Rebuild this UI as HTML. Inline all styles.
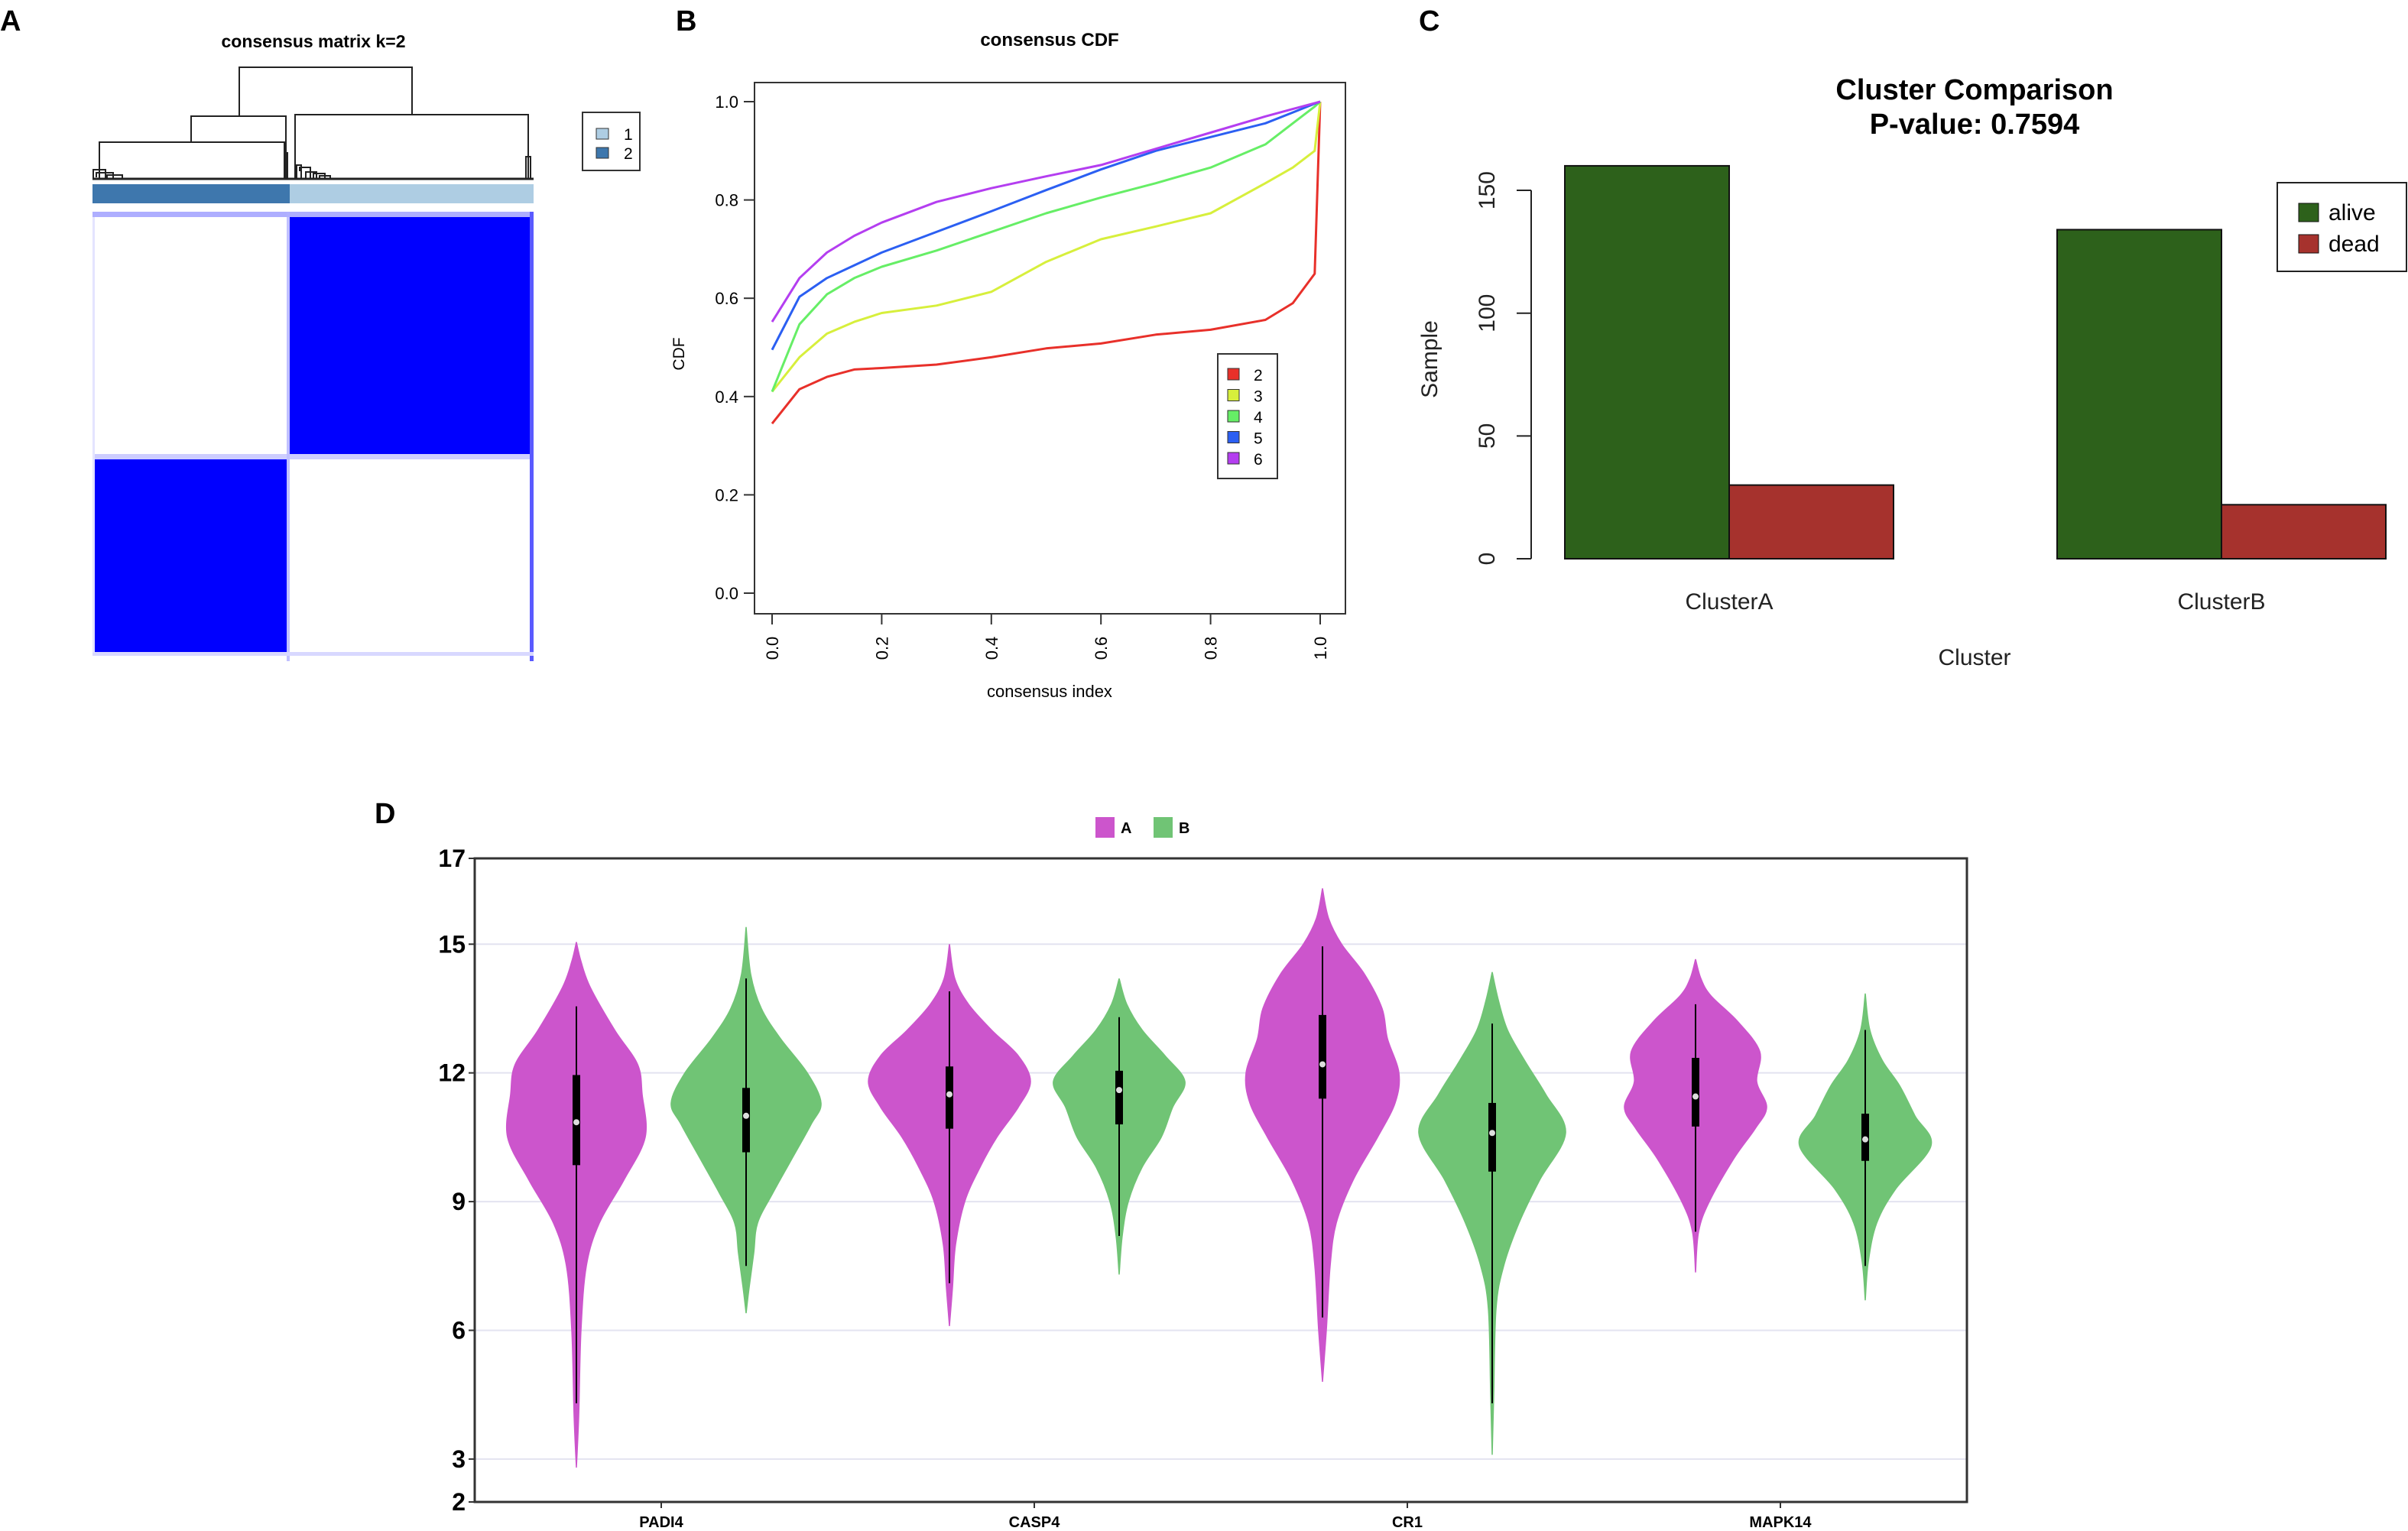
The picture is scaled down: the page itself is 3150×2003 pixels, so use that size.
<!DOCTYPE html>
<html><head><meta charset="utf-8"><style>
html,body{margin:0;padding:0;background:#fff;}
svg{display:block;font-family:"Liberation Sans",sans-serif;}
</style></head><body>
<svg id="fig" width="3150" height="2003" viewBox="0 0 3150 2003" xmlns="http://www.w3.org/2000/svg">
<rect width="3150" height="2003" fill="#fff"/>
<!-- Panel A -->
<g>
<text x="0" y="40" font-size="38" font-weight="bold">A</text>
<text x="410" y="62" font-size="23" font-weight="bold" text-anchor="middle">consensus matrix k=2</text>
<g stroke="#222" stroke-width="2" fill="none">
<path d="M313,152 V88 H539 V150"/>
<path d="M250,186 V152 H374 V234"/>
<path d="M130,234 V186 H372 V234"/>
<path d="M386,234 V150 H691 V234"/>
<path d="M122,234 V222 H138 V234 M126,232 V226 H148 V234 M140,234 V229 H160 V234"/>
<path d="M388,234 V216 H394 V234 M392,224 V219 H406 V234 M400,234 V225 H414 V234 M410,234 V227 H425 V234 M418,234 V230 H432 V234"/>
<path d="M688,234 V205 H694 V234 M372,234 V200 H376 V234"/>
<path d="M121,234 H698" stroke-width="3"/>
</g>
<rect x="121" y="241" width="258" height="25" fill="#3e77ad"/>
<rect x="379" y="241" width="319" height="25" fill="#aecde3"/>
<g>
<rect x="121" y="277" width="577" height="588" fill="#fff"/>
<rect x="379" y="284" width="314" height="310" fill="#0000ff"/>
<rect x="121" y="601" width="254" height="252" fill="#0000ff"/>
<rect x="121" y="277" width="577" height="7" fill="#9a9aff" opacity="0.8"/>
<rect x="375" y="277" width="4" height="588" fill="#b0b0ff" opacity="0.8"/>
<rect x="121" y="594" width="577" height="7" fill="#c0c0ff" opacity="0.8"/>
<rect x="693" y="277" width="5" height="588" fill="#5a5aff"/>
<rect x="121" y="853" width="577" height="5" fill="#d8d8ff"/>
<rect x="121" y="284" width="3" height="570" fill="#e4e4ff"/>
</g>
<rect x="762" y="147" width="75" height="76" fill="#fff" stroke="#333" stroke-width="2"/>
<rect x="780" y="168" width="16" height="14" fill="#aecde3" stroke="#333"/>
<rect x="780" y="193" width="16" height="14" fill="#3e77ad" stroke="#333"/>
<text x="816" y="183" font-size="21">1</text>
<text x="816" y="208" font-size="21">2</text>
</g>
<!-- Panel B -->
<g id="panelB">
<text x="884" y="40" font-size="38" font-weight="bold">B</text>
<text x="1373" y="60" font-size="24" font-weight="bold" text-anchor="middle">consensus CDF</text>
<rect x="987" y="108" width="773" height="695" fill="none" stroke="#333" stroke-width="2"/>
<text x="0" y="0" font-size="21" text-anchor="middle" transform="translate(895,463) rotate(-90)">CDF</text>
<text x="1373" y="912" font-size="22" text-anchor="middle">consensus index</text>
</g>
<!-- Panel C -->
<g id="panelC">
<text x="1856" y="40" font-size="38" font-weight="bold">C</text>
<text x="2583" y="130" font-size="38" font-weight="bold" text-anchor="middle">Cluster Comparison</text>
<text x="2583" y="175" font-size="38" font-weight="bold" text-anchor="middle">P-value: 0.7594</text>
<text x="2583" y="870" font-size="30" text-anchor="middle" fill="#222">Cluster</text>
<text x="0" y="0" font-size="30" text-anchor="middle" fill="#222" transform="translate(1880,470) rotate(-90)">Sample</text>
<rect x="2979" y="239" width="169" height="116" fill="#fff" stroke="#222" stroke-width="2"/>
<rect x="3007" y="266" width="26" height="24" fill="#2d611b" stroke="#111"/>
<rect x="3007" y="307" width="26" height="24" fill="#a6322d" stroke="#111"/>
<text x="3046" y="288" font-size="30">alive</text>
<text x="3046" y="329" font-size="30">dead</text>
</g>
<!-- Panel D -->
<g id="panelD">
<text x="490" y="1077" font-size="38" font-weight="bold">D</text>
<rect x="1433" y="1069" width="25" height="27" fill="#cc55cc"/>
<text x="1466" y="1090" font-size="20" font-weight="bold">A</text>
<rect x="1509" y="1069" width="25" height="27" fill="#70c475"/>
<text x="1542" y="1090" font-size="20" font-weight="bold">B</text>
</g>
</svg>
<script>
// ---------- Panel B data ----------
const cdfX = [0,0.05,0.1,0.15,0.2,0.3,0.4,0.5,0.6,0.7,0.8,0.9,0.95,0.99,1.0];
const cdfK2 = [0.345,0.415,0.44,0.455,0.458,0.465,0.48,0.498,0.508,0.526,0.536,0.556,0.59,0.65,1.0];
const cdfK3 = [0.41,0.48,0.528,0.552,0.57,0.585,0.613,0.674,0.72,0.746,0.773,0.834,0.866,0.9,1.0];
const cdfK4 = [0.41,0.547,0.608,0.641,0.664,0.697,0.735,0.773,0.805,0.834,0.866,0.913,0.956,0.99,1.0];
const cdfK5 = [0.495,0.603,0.641,0.667,0.693,0.735,0.777,0.82,0.862,0.9,0.928,0.956,0.978,0.996,1.0];
const cdfK6 = [0.552,0.641,0.693,0.727,0.754,0.796,0.824,0.848,0.871,0.904,0.937,0.97,0.985,0.997,1.0];
const cdfLabels = ["2","3","4","5","6"];
const cdfTicks = ["0.0","0.2","0.4","0.6","0.8","1.0"];
// ---------- Panel C data ----------
const barClusters = ["ClusterA","ClusterB"];
const barAlive = [160,134];
const barDead = [30,22];
const barTicks = [0,50,100,150];
// ---------- Panel D data ----------
const genes = ["PADI4","CASP4","CR1","MAPK14"];
const violinTicks = [2,3,6,9,12,15,17];
const densA = [
 [[2.8,0],[4,0.03],[6,0.06],[7.5,0.13],[8.5,0.3],[9.5,0.62],[10.5,0.9],[11.5,0.86],[12.2,0.8],[13,0.5],[14,0.18],[14.6,0.06],[15.05,0]],
 [[6.1,0],[7,0.04],[8,0.08],[9,0.2],[9.8,0.4],[10.5,0.62],[11.2,0.9],[11.8,1.06],[12.4,0.9],[13,0.55],[13.6,0.25],[14.2,0.07],[15.0,0]],
 [[4.8,0],[6,0.05],[7.5,0.1],[8.5,0.18],[9.5,0.4],[10.5,0.72],[11.3,0.95],[12,1.0],[12.8,0.85],[13.5,0.78],[14.3,0.55],[15,0.25],[15.6,0.08],[16.3,0]],
 [[7.35,0],[8.3,0.04],[9,0.18],[10,0.5],[10.7,0.78],[11.2,0.93],[11.8,0.8],[12.5,0.84],[13.2,0.55],[13.8,0.2],[14.2,0.07],[14.65,0]]
];
const densB = [
 [[6.4,0],[7,0.04],[7.8,0.1],[8.5,0.15],[9.2,0.35],[10,0.6],[10.8,0.85],[11.3,0.98],[12,0.8],[12.8,0.45],[13.5,0.2],[14.3,0.06],[15.4,0]],
 [[7.3,0],[8.2,0.04],[9,0.12],[9.8,0.3],[10.5,0.55],[11.2,0.7],[11.8,0.86],[12.4,0.6],[13,0.3],[13.6,0.1],[14.2,0]],
 [[3.1,0],[4.5,0.02],[6.5,0.05],[7.5,0.15],[8.5,0.35],[9.5,0.62],[10.6,0.96],[11.5,0.7],[12.3,0.42],[13,0.2],[13.7,0.08],[14.35,0]],
 [[6.7,0],[7.6,0.04],[8.5,0.15],[9.3,0.4],[10.3,0.86],[11,0.65],[11.7,0.45],[12.3,0.22],[13,0.06],[13.85,0]]
];
// [whiskerLow, q1, median, q3, whiskerHigh]
const boxA = [[4.3,9.85,10.85,11.95,13.55],[7.1,10.7,11.5,12.15,13.9],[6.3,11.4,12.2,13.35,14.95],[8.3,10.75,11.45,12.35,13.6]];
const boxB = [[7.5,10.15,11.0,11.65,14.2],[8.2,10.8,11.6,12.05,13.3],[4.3,9.7,10.6,11.3,13.15],[7.5,9.95,10.45,11.05,13.0]];

const NS="http://www.w3.org/2000/svg";
function mk(tag,attrs,parent){const e=document.createElementNS(NS,tag);for(const k in attrs)e.setAttribute(k,attrs[k]);parent.appendChild(e);return e;}

// ---- Panel B ----
const gB=document.getElementById('panelB');
const bx=v=>1010+717*v, by=v=>776-643*v;
cdfTicks.forEach((t,i)=>{
  const v=i*0.2;
  const tk=mk('line',{x1:bx(v),x2:bx(v),y1:803,y2:817,stroke:'#333','stroke-width':2},gB);
  
  
  const lb=mk('text',{x:0,y:0,'font-size':22,'text-anchor':'middle',transform:`translate(${bx(v)+8},848) rotate(-90)`},gB);
  lb.textContent=t;
  
  
  const ty=mk('line',{x1:973,x2:987,y1:by(v),y2:by(v),stroke:'#333','stroke-width':2},gB);
  
  
  const ly=mk('text',{x:966,y:by(v)+8,'font-size':22,'text-anchor':'end'},gB);
  ly.textContent=t;
  
  
});
const cdfSeries=[cdfK2,cdfK3,cdfK4,cdfK5,cdfK6];
const cdfColors=['#e8302a','#d7ef3c','#66ee66','#2b5ff2','#b43ef0'];
cdfSeries.forEach((s,i)=>{
  const d=s.map((v,j)=>(j?'L':'M')+bx(cdfX[j]).toFixed(1)+','+by(v).toFixed(1)).join(' ');
  const p=mk('path',{d:d,fill:'none',stroke:cdfColors[i],'stroke-width':3,'stroke-linejoin':'round'},gB);
  
  
});
const lgB=mk('rect',{x:1593,y:463,width:78,height:163,fill:'#fff',stroke:'#333','stroke-width':2},gB);


cdfLabels.forEach((l,i)=>{
  const y=490+i*27.5;
  const r=mk('rect',{x:1606,y:y-8,width:15,height:15,fill:cdfColors[i],stroke:'#333'},gB);
  
  
  const t=mk('text',{x:1640,y:y+8,'font-size':21},gB);
  t.textContent=l;
  
  
});

// ---- Panel C ----
const gC=document.getElementById('panelC');
const cy=v=>731-3.213*v;
const ax=mk('line',{x1:2003,x2:2003,y1:cy(0),y2:cy(150),stroke:'#222','stroke-width':2},gC);


barTicks.forEach(v=>{
  const l=mk('line',{x1:1984,x2:2003,y1:cy(v),y2:cy(v),stroke:'#222','stroke-width':2},gC);
  
  
  const t=mk('text',{x:0,y:0,'font-size':30,'text-anchor':'middle',fill:'#222',transform:`translate(1955,${cy(v)}) rotate(-90)`},gC);
  t.textContent=v;
  
  
});
const groupX=[2047,2691], bw=215;
barClusters.forEach((c,i)=>{
  const x0=groupX[i];
  const a=mk('rect',{x:x0,y:cy(barAlive[i]),width:bw,height:cy(0)-cy(barAlive[i]),fill:'#2d611b',stroke:'#111','stroke-width':2},gC);
  
  
  const d=mk('rect',{x:x0+bw,y:cy(barDead[i]),width:bw,height:cy(0)-cy(barDead[i]),fill:'#a6322d',stroke:'#111','stroke-width':2},gC);
  
  
  const t=mk('text',{x:x0+bw,y:797,'font-size':30,'text-anchor':'middle',fill:'#222'},gC);
  t.textContent=c;
  
  
});

// ---- Panel D ----
const gD=document.getElementById('panelD');
const L=621,R=2573,T=1123,B=1965;
const vy=v=>B-(v-2)*(B-T)/15;
const catX=i=>L+(R-L)/genes.length*(i+0.5);
violinTicks.forEach(v=>{
  if(v!==2&&v!==17){
    const g=mk('line',{x1:L,x2:R,y1:vy(v),y2:vy(v),stroke:'#e3e3f0','stroke-width':2},gD);
    
    
  }
  const tk=mk('line',{x1:L-8,x2:L,y1:vy(v),y2:vy(v),stroke:'#333','stroke-width':2},gD);
  
  
  const t=mk('text',{x:L-12,y:vy(v)+11,'font-size':32,'font-weight':'bold','text-anchor':'end'},gD);
  t.textContent=v;
  
  
});
function smoothSide(pts){
  let d='';
  for(let i=0;i<pts.length-1;i++){
    const p0=pts[Math.max(i-1,0)],p1=pts[i],p2=pts[i+1],p3=pts[Math.min(i+2,pts.length-1)];
    const c1=[p1[0]+(p2[0]-p0[0])/6,p1[1]+(p2[1]-p0[1])/6];
    const c2=[p2[0]-(p3[0]-p1[0])/6,p2[1]-(p3[1]-p1[1])/6];
    d+=` C${c1[0].toFixed(1)},${c1[1].toFixed(1)} ${c2[0].toFixed(1)},${c2[1].toFixed(1)} ${p2[0].toFixed(1)},${p2[1].toFixed(1)}`;
  }
  return d;
}
function violin(cx,dens,box,color,name){
  const W=100;
  const right=dens.map(p=>[cx+p[1]*W,vy(p[0])]);
  const left=dens.slice().reverse().map(p=>[cx-p[1]*W,vy(p[0])]);
  const d='M'+right[0][0]+','+right[0][1]+smoothSide(right)+' L'+left[0][0]+','+left[0][1]+smoothSide(left)+' Z';
  const p=mk('path',{d:d,fill:color,stroke:color,'stroke-width':1.5},gD);
  
  
  const w=mk('line',{x1:cx,x2:cx,y1:vy(box[0]),y2:vy(box[4]),stroke:'#000','stroke-width':2},gD);
  
  
  const b=mk('rect',{x:cx-5,y:vy(box[3]),width:10,height:vy(box[1])-vy(box[3]),fill:'#000'},gD);
  
  
  const m=mk('circle',{cx:cx,cy:vy(box[2]),r:4,fill:'#ddd'},gD);
  
  
}
genes.forEach((g,i)=>{
  const c=catX(i);
  violin(c-111,densA[i],boxA[i],'#cc55cc',g+'-a');
  violin(c+111,densB[i],boxB[i],'#70c475',g+'-b');
  const tk=mk('line',{x1:c,x2:c,y1:B,y2:B+8,stroke:'#333','stroke-width':2},gD);
  
  
  const t=mk('text',{x:c,y:1998,'font-size':20,'font-weight':'bold','text-anchor':'middle'},gD);
  t.textContent=g;
  
  
});
const frame=mk('path',{d:`M${L},${T} H${R} V${B} H${L} Z`,fill:'none',stroke:'#333','stroke-width':3},gD);


</script>
</body></html>
